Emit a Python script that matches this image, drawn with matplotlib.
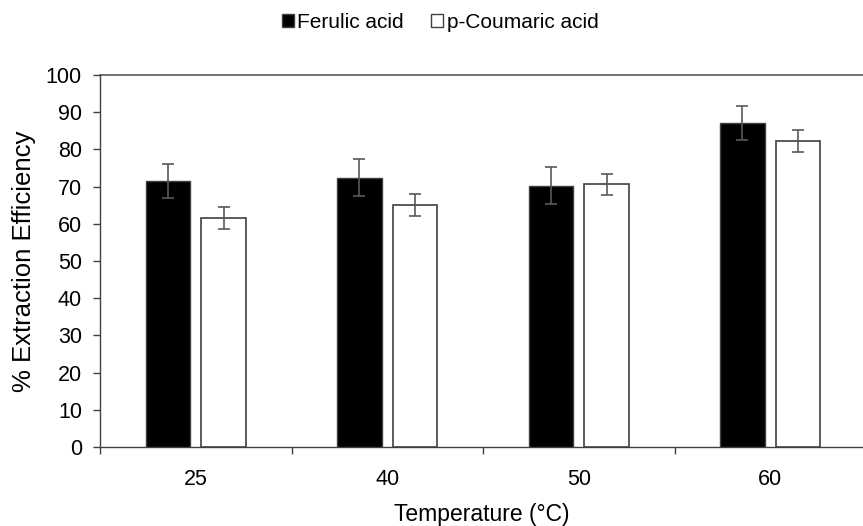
import matplotlib
matplotlib.use("Agg")
import matplotlib.pyplot as plt
import numpy as np
from matplotlib.patches import Patch

plt.rcParams['font.family'] = ['Liberation Sans', 'DejaVu Sans']

categories = ['25', '40', '50', '60']
ferulic = [71.5, 72.4, 70.2, 87.0]
ferulic_err = [4.6, 5.0, 5.0, 4.6]
coumaric = [61.5, 65.0, 70.6, 82.2]
coumaric_err = [3.0, 2.9, 2.8, 3.0]
yticks = [0, 10, 20, 30, 40, 50, 60, 70, 80, 90, 100]

fig = plt.figure(figsize=(8.63, 5.26), dpi=100)
ax = fig.add_axes([100/863, 79/526, 763/863, 372/526])

x = np.arange(len(categories))
w = 0.23
off = 0.145
edge = '#404040'
ecol = '#595959'
ax.bar(x - off, ferulic, w, color='black', edgecolor=edge, linewidth=1.0,
       yerr=ferulic_err, ecolor=ecol, capsize=4.5, error_kw=dict(elinewidth=1.2, capthick=1.2),
       zorder=3)
ax.bar(x + off, coumaric, w, color='white', edgecolor=edge, linewidth=1.2,
       yerr=coumaric_err, ecolor=ecol, capsize=4.5, error_kw=dict(elinewidth=1.2, capthick=1.2),
       zorder=3)

ax.set_xlim(-0.5, -0.5 + 763/191.5)
ax.set_ylim(0, 100)
ax.set_yticks(yticks)
ax.set_xticks(x)
ax.set_xticklabels(categories)
ax.set_xticks(np.arange(-0.5, 3.5, 1.0), minor=True)
ax.tick_params(axis='x', which='major', length=0, pad=16, labelsize=15.5)
ax.tick_params(axis='x', which='minor', length=5, width=1.0, color='#404040', direction='out')
ax.tick_params(axis='y', length=5, width=1.0, color='#404040', direction='out', labelsize=15.5, pad=8)

for s in ['top', 'right']:
    ax.spines[s].set_visible(False)
for s in ['left', 'bottom']:
    ax.spines[s].set_color('#404040')
    ax.spines[s].set_linewidth(1.0)
ax.axhline(100, color='#595959', linewidth=1.2, zorder=1, clip_on=False)

ax.set_ylabel('% Extraction Efficiency', fontsize=18.5, labelpad=7)
ax.set_xlabel('Temperature (°C)', fontsize=16.5, labelpad=9)

handles = [Patch(facecolor='black', edgecolor=edge, label='Ferulic acid'),
           Patch(facecolor='white', edgecolor=edge, label='p-Coumaric acid')]
fig.legend(handles=handles, loc='center', bbox_to_anchor=(440/863, 1 - 22/526), ncol=2,
           frameon=False, fontsize=15, handlelength=0.6, handleheight=0.6,
           handletextpad=0.15, columnspacing=1.3)

fig.savefig('out.png', dpi=100)
